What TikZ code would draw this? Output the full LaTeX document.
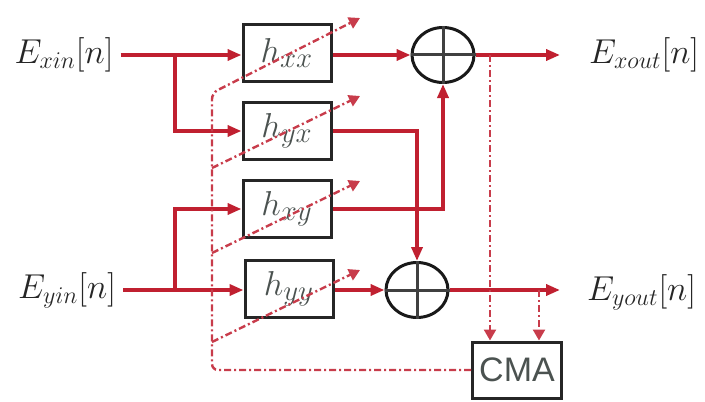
\documentclass[tikz,border=0pt]{standalone}
\usepackage{fontspec}
\newfontfamily\cmafont{Liberation Sans}
\usetikzlibrary{arrows.meta,shapes.geometric}
\definecolor{sigred}{RGB}{192,32,48}
\definecolor{fbred}{RGB}{200,60,75}
\definecolor{hgray}{RGB}{75,82,80}
\begin{document}
\begin{tikzpicture}[x=0.5pt, y=-0.5pt]
			\tikzset{
				sig/.style={draw=sigred, line width=2pt},
				sigarr/.style={sig, -{Triangle[length=7pt,width=5.5pt]}},
				fbline/.style={draw=fbred, line width=1.2pt, dash pattern=on 3.5pt off 1.5pt on 1pt off 1.5pt},
				fbarr/.style={fbline, -{Triangle[length=5.5pt,width=6pt]}},
				hbox/.style={draw=black!85, line width=1.5pt, minimum width=44pt, minimum height=28.5pt, inner sep=0pt, text=hgray, font=\fontsize{19}{21}\selectfont},
				sumnode/.style={ellipse, draw=black!90, line width=1.5pt, minimum width=31pt, minimum height=27.5pt, inner sep=0pt},
				crossline/.style={draw=black!75, line width=1.5pt},
				siglabel/.style={font=\fontsize{17}{20}\selectfont, text=black!85}
			}
			\useasboundingbox (0,0) rectangle (705,401);
			\node[siglabel] (exin) at (64,55) {$E_{xin}[n]$};
			\node[siglabel] (eyin) at (67,290) {$E_{yin}[n]$};
			\node[hbox] (hxx) at (287,53) {$h_{xx}$};
			\node[hbox] (hyx) at (287,131) {$h_{yx}$};
			\node[hbox] (hxy) at (287,209) {$h_{xy}$};
			\node[hbox] (hyy) at (289,289) {$h_{yy}$};
			\node[sumnode] (s1) at (443,55) {};
			\node[sumnode] (s2) at (417,290) {};
			\node[siglabel, anchor=west] (exout) at (582,55) {$E_{xout}[n]$};
			\node[siglabel, anchor=west] (eyout) at (580,292) {$E_{yout}[n]$};
			\node[draw=black!85, line width=1.5pt, minimum width=44.5pt, minimum height=28pt, inner sep=0pt, text=hgray, font=\cmafont\fontsize{17}{19}\selectfont] (cma) at (517,370) {CMA};
			\coordinate (bx) at (175,55);
			\coordinate (by) at (175,290);
			\coordinate (tapx) at (490,55);
			\coordinate (tapy) at (539,290);
			\coordinate (fbtop) at (212,93);
			\draw[crossline] (s1.north) -- (s1.south) (s1.west) -- (s1.east);
			\draw[crossline] (s2.north) -- (s2.south) (s2.west) -- (s2.east);
			\draw[sigarr] (exin.east) -- (hxx.west |- exin);
			\draw[sigarr] (bx) |- (hyx.west);
			\draw[sigarr] (eyin.east) -- (hyy.west |- eyin);
			\draw[sigarr] (by) |- (hxy.west);
			\draw[sigarr] (hxx.east |- s1) -- (s1.west);
			\draw[sigarr] (hyx.east) -| (s2.north);
			\draw[sigarr] (hxy.east) -| (s1.south);
			\draw[sigarr] (hyy.east |- s2) -- (s2.west);
			\draw[sigarr] (s1.east) -- ([xshift=-11pt]exout.west);
			\draw[sigarr] (s2.east) -- ([xshift=-10pt]eyout.west |- s2);
			\draw[fbarr] (tapx) -- (tapx |- cma.north);
			\draw[fbarr] (tapy) -- (tapy |- cma.north);
			\draw[fbarr, rounded corners=3pt] (cma.west) -| (fbtop) -- ++(148,-75);
			\foreach \yy in {168,253,342}
				\draw[fbarr] (212,\yy) -- ++(148,-72);
		\end{tikzpicture}
\end{document}
